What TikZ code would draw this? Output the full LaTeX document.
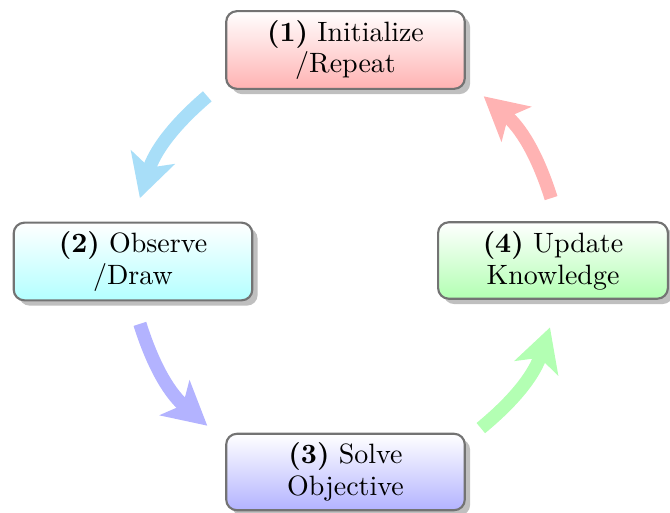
\documentclass[tikz,border=0pt]{standalone}
\usetikzlibrary{shadows,arrows.meta}

\definecolor{skyarr}{RGB}{168,222,248}
\definecolor{bluearr}{RGB}{179,179,255}
\definecolor{greenarr}{RGB}{179,255,179}
\definecolor{redarr}{RGB}{255,179,179}

\begin{document}
\begin{tikzpicture}
  [x=0.0132cm,y=0.0132cm,
   stage/.style={rectangle,rounded corners=4pt,draw=black!55,line width=.8pt,
     minimum width=89.6pt,minimum height=28.5pt,align=center,font=\fontsize{10.5}{12}\selectfont,
     drop shadow={shadow xshift=2pt,shadow yshift=-2pt,opacity=1,fill=black!25}},
   flow/.style={line width=5pt,-{Stealth[length=16pt,width=17pt,inset=4pt]}}]
  \useasboundingbox (0,0) rectangle (670,513);

  \node[stage,top color=white,bottom color=red!30] (init) at (345.5,463) {\textbf{(1)} Initialize\\/Repeat};
  \node[stage,top color=white,bottom color=cyan!30] (obs) at (133,251.5) {\textbf{(2)} Observe\\/Draw};
  \node[stage,top color=white,bottom color=blue!30] (solve) at (345.5,41) {\textbf{(3)} Solve\\Objective};
  \node[stage,top color=white,bottom color=green!30,minimum width=86.3pt] (upd) at (553,252.5) {\textbf{(4)} Update\\Knowledge};

  % arrow ends on a circle round the middle
  \coordinate (c) at (345.5,252);
  \foreach \name/\ang in {s1/130,e1/163,s2/197,e2/230,s3/309,e3/342,s4/17,e4/50}
    \path (c) ++(\ang:215) coordinate (\name);

  \foreach \from/\to/\col in {s1/e1/skyarr,s2/e2/bluearr,s3/e3/greenarr,s4/e4/redarr}
    \draw[flow,\col] (\from) to[bend right=16] (\to);

\end{tikzpicture}
\end{document}
